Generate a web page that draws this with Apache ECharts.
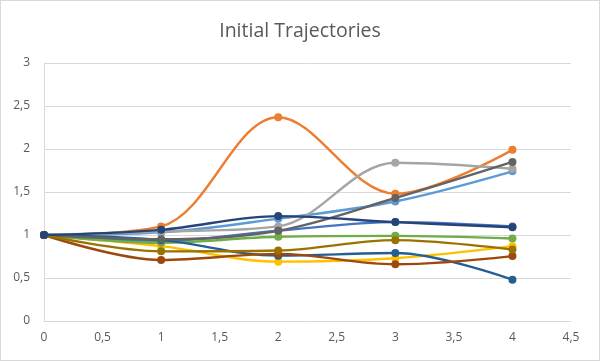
<!DOCTYPE html>
<html><head><meta charset="utf-8">
<script src="https://cdn.jsdelivr.net/npm/echarts@6/dist/echarts.min.js"></script>
<style>html,body{margin:0;padding:0;background:#fff}#c{width:600px;height:361px;box-sizing:border-box;border:1px solid #d9d9d9}</style>
</head><body><div id="c"></div>
<script>
var xValues = [0, 1, 2, 3, 4];
var seriesNames = ['S1','S2','S3','S4','S5','S6','S7','S8','S9','S10','S11'];
var s1 = [1, 1.03, 1.19, 1.39, 1.74];
var s2 = [1, 1.10, 2.37, 1.48, 1.99];
var s3 = [1, 1.04, 1.10, 1.84, 1.77];
var s4 = [1, 0.87, 0.69, 0.73, 0.87];
var s5 = [1, 0.93, 1.05, 1.15, 1.10];
var s6 = [1, 0.91, 0.98, 0.99, 0.96];
var s7 = [1, 0.94, 0.76, 0.79, 0.48];
var s8 = [1, 0.71, 0.78, 0.66, 0.755];
var s9 = [1, 0.95, 1.05, 1.43, 1.85];
var s10 = [1, 0.81, 0.82, 0.94, 0.83];
var s11 = [1, 1.06, 1.22, 1.15, 1.09];
var allSeries = [s1,s2,s3,s4,s5,s6,s7,s8,s9,s10,s11];
var colors = ['#5B9BD5','#ED7D31','#A5A5A5','#FFC000','#4472C4','#70AD47','#255E91','#9E480E','#636363','#997300','#264478'];
function fmt(v){ return String(v).replace('.', ','); }
var chart = echarts.init(document.getElementById('c'));
chart.setOption({
  animation: false,
  title: { text: 'Initial Trajectories', left: 'center', top: 15,
    textStyle: { fontFamily: 'Open Sans', fontWeight: 'normal', fontSize: 19.5, color: '#595959' } },
  grid: { left: 43, right: 28, top: 62, bottom: 39 },
  xAxis: { type: 'value', min: 0, max: 4.5, interval: 0.5,
    axisLine: { show: true, onZero: false, lineStyle: { color: '#d9d9d9' } },
    axisTick: { show: false }, splitLine: { show: false },
    axisLabel: { color: '#595959', fontSize: 12, fontFamily: 'Open Sans', margin: 11, formatter: fmt } },
  yAxis: { type: 'value', min: 0, max: 3, interval: 0.5,
    axisLine: { show: true, lineStyle: { color: '#d9d9d9' } },
    axisTick: { show: false },
    splitLine: { show: true, lineStyle: { color: '#d9d9d9' } },
    axisLabel: { color: '#595959', fontSize: 12, fontFamily: 'Open Sans', margin: 14, formatter: fmt } },
  series: allSeries.map(function(arr, i){
    return { name: seriesNames[i], type: 'line', smooth: 0.35,
      data: arr.map(function(v, j){ return [xValues[j], v]; }),
      symbol: 'circle', symbolSize: 8,
      lineStyle: { width: 2.4, color: colors[i] },
      itemStyle: { color: colors[i] } };
  })
});
</script></body></html>
